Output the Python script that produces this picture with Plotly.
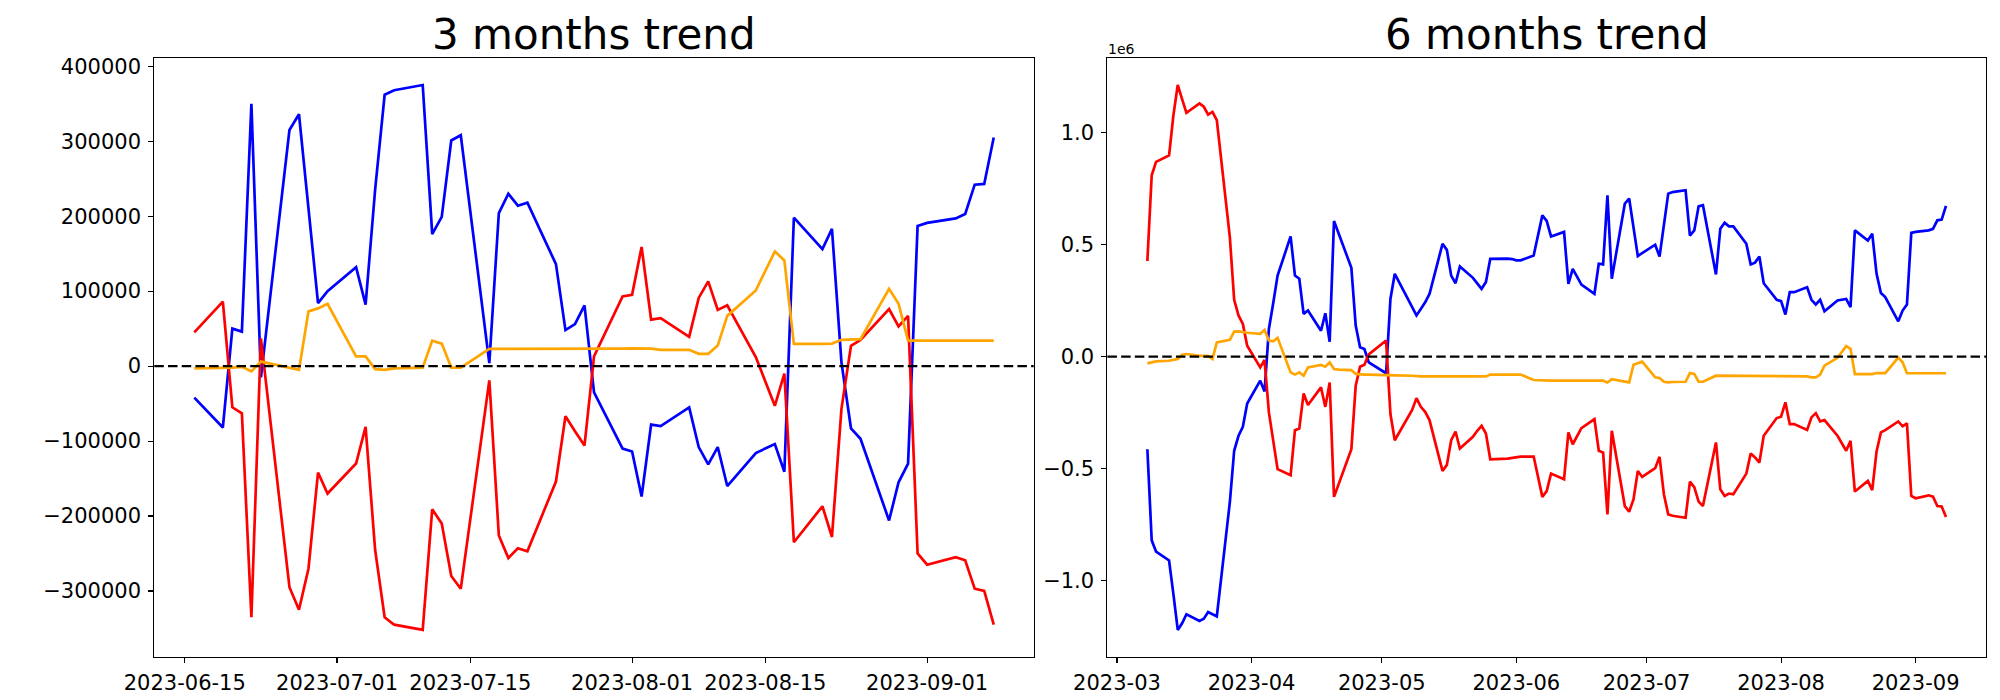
import pandas as pd
import plotly.graph_objects as go

# ---------------- 3 months data ----------------
dates_3m = [
    # June
    "2023-06-16", "2023-06-19", "2023-06-20", "2023-06-21", "2023-06-22", "2023-06-23",
    "2023-06-26", "2023-06-27", "2023-06-28", "2023-06-29", "2023-06-30",
    # July
    "2023-07-03", "2023-07-04", "2023-07-05", "2023-07-06", "2023-07-07",
    "2023-07-10", "2023-07-11", "2023-07-12", "2023-07-13", "2023-07-14",
    "2023-07-17", "2023-07-18", "2023-07-19", "2023-07-20", "2023-07-21",
    "2023-07-24", "2023-07-25", "2023-07-26", "2023-07-27", "2023-07-28", "2023-07-31",
    # August
    "2023-08-01", "2023-08-02", "2023-08-03", "2023-08-04",
    "2023-08-07", "2023-08-08", "2023-08-09", "2023-08-10", "2023-08-11",
    "2023-08-14", "2023-08-16", "2023-08-17", "2023-08-18",
    "2023-08-21", "2023-08-22", "2023-08-23", "2023-08-24", "2023-08-25",
    "2023-08-28", "2023-08-29", "2023-08-30", "2023-08-31",
    # September
    "2023-09-01", "2023-09-04", "2023-09-05", "2023-09-06", "2023-09-07", "2023-09-08",
]
blue_3m = [
    -42000, -82000, 50000, 46000, 350000, -15000, 315000, 336000, 210000, 84000, 100000,
    132000, 82000, 235000, 362000, 368000, 375000, 176000, 199000, 301000, 308000,
    4000, 204000, 230000, 214000, 218000, 136000, 48000, 56000, 81000, -35000, -110000,
    -114000, -174000, -78000, -80000, -55000, -108000, -131000, -108000, -160000,
    -116000, -104000, -141000, 198000, 156000, 183000, 5000, -83000, -97000,
    -206000, -155000, -130000, 187000,
    191000, 197000, 203000, 242000, 243000, 305000,
]
red_3m = [
    45000, 86000, -55000, -63000, -335000, 37000, -295000, -325000, -270000, -142000, -170000,
    -130000, -81000, -245000, -335000, -345000, -352000, -191000, -210000, -280000, -297000,
    -19000, -226000, -256000, -243000, -247000, -154000, -67000, -87000, -106000, 13000, 93000,
    95000, 159000, 62000, 64000, 39000, 91000, 113000, 75000, 81000,
    12000, -53000, -10000, -235000, -187000, -228000, -57000, 27000, 35000,
    76000, 53000, 67000, -250000,
    -265000, -255000, -259000, -297000, -300000, -345000,
]
orange_3m = [
    -3000, -2500, -2000, -1000, -7000, 6000, -3000, -5000, 73000, 77000, 83000,
    13000, 13000, -4000, -5000, -3000, -2000, 34000, 30000, -2000, -2000,
    23000, 23000, 23000, 23500, 23500, 23500, 23000, 23000, 22500, 23000, 23400,
    23600, 23000, 23400, 21700, 21700, 16400, 16400, 27400, 67000,
    101000, 153000, 141000, 29600, 29600, 30000, 35000, 35000, 36000,
    103000, 83000, 34000, 34000,
    34000, 34000, 34000, 34000, 34500, 34000,
]

# ---------------- 6 months data ----------------
dates_6m = [
    # March (18)
    "2023-03-08", "2023-03-09", "2023-03-10", "2023-03-13", "2023-03-14", "2023-03-15",
    "2023-03-16", "2023-03-17", "2023-03-20", "2023-03-21", "2023-03-22", "2023-03-23",
    "2023-03-24", "2023-03-27", "2023-03-28", "2023-03-29", "2023-03-30", "2023-03-31",
    # April (20)
    "2023-04-03", "2023-04-04", "2023-04-05", "2023-04-06", "2023-04-07",
    "2023-04-10", "2023-04-11", "2023-04-12", "2023-04-13", "2023-04-14",
    "2023-04-17", "2023-04-18", "2023-04-19", "2023-04-20", "2023-04-21",
    "2023-04-24", "2023-04-25", "2023-04-26", "2023-04-27", "2023-04-28",
    # May (20)
    "2023-05-02", "2023-05-03", "2023-05-04",
    "2023-05-08", "2023-05-09", "2023-05-10", "2023-05-11", "2023-05-12",
    "2023-05-15", "2023-05-16", "2023-05-17", "2023-05-18", "2023-05-19",
    "2023-05-22", "2023-05-23", "2023-05-24", "2023-05-25", "2023-05-26",
    "2023-05-30", "2023-05-31",
    # June (21)
    "2023-06-01", "2023-06-02", "2023-06-05", "2023-06-07", "2023-06-08", "2023-06-09",
    "2023-06-12", "2023-06-13", "2023-06-14", "2023-06-15", "2023-06-16",
    "2023-06-19", "2023-06-20", "2023-06-21", "2023-06-22", "2023-06-23",
    "2023-06-26", "2023-06-27", "2023-06-28", "2023-06-29", "2023-06-30",
    # July (21)
    "2023-07-03", "2023-07-04", "2023-07-05", "2023-07-06", "2023-07-07",
    "2023-07-10", "2023-07-11", "2023-07-12", "2023-07-13", "2023-07-14",
    "2023-07-17", "2023-07-18", "2023-07-19", "2023-07-20", "2023-07-21",
    "2023-07-24", "2023-07-25", "2023-07-26", "2023-07-27", "2023-07-28", "2023-07-31",
    # August (22)
    "2023-08-01", "2023-08-02", "2023-08-03", "2023-08-04",
    "2023-08-07", "2023-08-08", "2023-08-09", "2023-08-10", "2023-08-11",
    "2023-08-14", "2023-08-16", "2023-08-17", "2023-08-18",
    "2023-08-21", "2023-08-22", "2023-08-23", "2023-08-24", "2023-08-25",
    "2023-08-28", "2023-08-29", "2023-08-30", "2023-08-31",
    # September (6)
    "2023-09-01", "2023-09-04", "2023-09-05", "2023-09-06", "2023-09-07", "2023-09-08",
]
blue_6m = [
    # March
    -413000, -820000, -870000, -910000, -1060000, -1220000,
    -1190000, -1150000, -1180000, -1170000, -1140000, -1150000,
    -1160000, -650000, -420000, -353000, -313000, -209000,
    # April
    -107000, -155000, 124000, 240000, 362000,
    537000, 362000, 348000, 191000, 206000,
    116000, 194000, 67000, 606000, 555000,
    397000, 139000, 42000, 34000, -25000,
    # May
    -74000, 258000, 370000,
    221000, 184000, 213000, 243000, 280000,
    504000, 477000, 362000, 328000, 403000,
    352000, 330000, 303000, 333000, 437000,
    438000, 436000,
    # June
    430000, 430000, 452000, 631000, 606000, 537000,
    557000, 325000, 392000, 357000, 322000,
    281000, 415000, 412000, 720000, 348000,
    683000, 706000, 580000, 449000, 463000,
    # July
    500000, 447000, 600000, 728000, 735000,
    743000, 541000, 564000, 671000, 676000,
    367000, 571000, 598000, 582000, 582000,
    504000, 412000, 420000, 447000, 328000, 254000,
    # August
    248000, 188000, 288000, 288000,
    310000, 254000, 233000, 254000, 203000,
    251000, 258000, 221000, 564000,
    519000, 549000, 370000, 284000, 266000,
    158000, 206000, 233000, 553000,
    # September
    557000, 564000, 571000, 609000, 612000, 673000,
]
red_6m = [
    # March
    427000, 810000, 870000, 899000, 1078000, 1213000,
    1150000, 1089000, 1131000, 1116000, 1081000, 1093000,
    1056000, 534000, 254000, 184000, 146000, 49000,
    # April
    -48000, -15000, -249000, -376000, -502000,
    -529000, -328000, -321000, -164000, -216000,
    -137000, -224000, -115000, -626000, -574000,
    -413000, -130000, -45000, -36000, 10000,
    # May
    72000, -256000, -373000,
    -238000, -185000, -224000, -246000, -283000,
    -510000, -483000, -373000, -334000, -410000,
    -358000, -331000, -309000, -343000, -458000,
    -455000, -453000,
    # June
    -450000, -446000, -446000, -626000, -600000, -522000,
    -547000, -338000, -391000, -355000, -319000,
    -279000, -420000, -428000, -704000, -331000,
    -667000, -692000, -637000, -510000, -537000,
    # July
    -498000, -447000, -614000, -704000, -710000,
    -719000, -558000, -582000, -647000, -667000,
    -383000, -592000, -622000, -611000, -614000,
    -522000, -432000, -450000, -473000, -353000, -274000,
    # August
    -268000, -204000, -301000, -301000,
    -327000, -271000, -252000, -289000, -283000,
    -353000, -420000, -376000, -602000,
    -555000, -596000, -423000, -338000, -328000,
    -289000, -311000, -298000, -622000,
    # September
    -632000, -619000, -625000, -667000, -669000, -716000,
]
orange_6m = [
    # March
    -30000, -25000, -21000, -18000, -15000, -10000,
    9000, 12000, 4000, 4000, 4000, -10000,
    64000, 75000, 112000, 113000, 109000, 107000,
    # April
    102000, 119000, 72000, 69000, 84000,
    -70000, -80000, -70000, -85000, -48000,
    -37000, -45000, -25000, -55000, -58000,
    -60000, -77000, -80000, -80000, -80000,
    # May
    -80000, -82000, -83000,
    -85000, -88000, -88000, -88000, -88000,
    -88000, -88000, -88000, -88000, -88000,
    -88000, -88000, -88000, -88000, -80000,
    -80000, -80000,
    # June
    -80000, -80000, -104000, -106000, -107000, -107000,
    -107000, -107000, -107000, -108000, -110000,
    -110000, -108000, -107000, -115000, -100000,
    -111000, -115000, -36000, -30000, -22000,
    # July
    -92000, -95000, -112000, -115000, -113000,
    -112000, -73000, -77000, -112000, -112000,
    -85000, -85000, -85000, -85000, -85000,
    -85000, -85000, -86000, -86000, -85000, -85000,
    # August
    -85000, -85000, -85000, -87000,
    -88000, -92000, -92000, -80000, -40000,
    -5000, 47000, 35000, -78000,
    -78000, -78000, -73000, -73000, -73000,
    -4000, -25000, -74000, -74000,
    # September
    -74000, -74000, -74000, -74000, -74000, -74000,
]

# ---------------- tick labels ----------------
xticks_3m = ["2023-06-15", "2023-07-01", "2023-07-15", "2023-08-01", "2023-08-15", "2023-09-01"]
xticks_6m = ["2023-03-01", "2023-04-01", "2023-05-01", "2023-06-01",
             "2023-07-01", "2023-08-01", "2023-09-01"]
xticktext_6m = ["2023-03", "2023-04", "2023-05", "2023-06", "2023-07", "2023-08", "2023-09"]
yticks_3m = [-300000, -200000, -100000, 0, 100000, 200000, 300000, 400000]
yticktext_3m = ["\u2212300000", "\u2212200000", "\u2212100000", "0",
                "100000", "200000", "300000", "400000"]
yticks_6m = [-1000000, -500000, 0, 500000, 1000000]
yticktext_6m = ["\u22121.0", "\u22120.5", "0.0", "0.5", "1.0"]

titles = ["3 months trend", "6 months trend"]
colors = {"blue": "#0000ff", "red": "#ff0000", "orange": "#ffa500"}

W, H = 2000, 700
FONT = "DejaVu Sans"


def mpl_range(vals, frac=0.05):
    lo, hi = min(vals), max(vals)
    pad = (hi - lo) * frac
    return [lo - pad, hi + pad]


def mpl_date_range(dates, frac=0.05):
    d = pd.to_datetime(dates)
    lo, hi = d.min(), d.max()
    pad = (hi - lo) * frac
    return [(lo - pad).strftime("%Y-%m-%d %H:%M:%S"), (hi + pad).strftime("%Y-%m-%d %H:%M:%S")]


fig = go.Figure()

sets = [
    (dates_3m, blue_3m, red_3m, orange_3m, "x", "y"),
    (dates_6m, blue_6m, red_6m, orange_6m, "x2", "y2"),
]
for dates, b, r, o, xa, ya in sets:
    for vals, c in ((b, "blue"), (r, "red"), (o, "orange")):
        fig.add_trace(go.Scatter(
            x=dates, y=vals, mode="lines", xaxis=xa, yaxis=ya,
            line=dict(color=colors[c], width=2.7), showlegend=False,
            hoverinfo="skip",
        ))

top = 1 - 55 / H
bottom = 1 - 657 / H
dom1 = [122.4 / W, 1017 / W]
dom2 = [1092 / W, 1985.7 / W]

axis_common = dict(
    showline=True, linecolor="black", linewidth=1.1, mirror=True,
    ticks="outside", ticklen=5, tickwidth=1.1, tickcolor="black",
    showgrid=False, zeroline=False,
    tickfont=dict(family=FONT, size=21, color="black"),
)

fig.update_layout(
    width=W, height=H,
    margin=dict(l=0, r=0, t=0, b=0),
    paper_bgcolor="white", plot_bgcolor="white",
    font=dict(family=FONT, color="black"),
    xaxis=dict(domain=dom1, anchor="y", type="date",
               range=mpl_date_range(dates_3m),
               tickmode="array", tickvals=xticks_3m, ticktext=xticks_3m,
               ticklabelstandoff=2, **axis_common),
    yaxis=dict(domain=[bottom, top], anchor="x",
               range=mpl_range(blue_3m + red_3m + orange_3m),
               tickmode="array", tickvals=yticks_3m, ticktext=yticktext_3m,
               ticklabelstandoff=3, **axis_common),
    xaxis2=dict(domain=dom2, anchor="y2", type="date",
                range=mpl_date_range(dates_6m),
                tickmode="array", tickvals=xticks_6m, ticktext=xticktext_6m,
                ticklabelstandoff=2, **axis_common),
    yaxis2=dict(domain=[bottom, top], anchor="x2",
                range=mpl_range(blue_6m + red_6m + orange_6m),
                tickmode="array", tickvals=yticks_6m, ticktext=yticktext_6m,
                ticklabelstandoff=3, **axis_common),
)

# dashed zero lines
for xr, yr in (("x domain", "y"), ("x2 domain", "y2")):
    fig.add_shape(type="line", xref=xr, yref=yr, x0=0, x1=1, y0=0, y1=0,
                  line=dict(color="black", width=2.3, dash="9.5px,4.2px"),
                  layer="above")

# titles
for dom, t in ((dom1, titles[0]), (dom2, titles[1])):
    fig.add_annotation(text=t, xref="paper", yref="paper",
                       x=(dom[0] + dom[1]) / 2, y=top, xanchor="center", yanchor="bottom",
                       yshift=-3, showarrow=False,
                       font=dict(family=FONT, size=42, color="black"))

# offset text for 6 months axis
fig.add_annotation(text="1e6", xref="paper", yref="paper", x=dom2[0], y=top,
                   xanchor="left", yanchor="bottom", xshift=-1, yshift=-1, showarrow=False,
                   font=dict(family=FONT, size=14, color="black"))

fig.write_html(
    "out.html",
    config={"displayModeBar": False, "staticPlot": True},
    post_script="document.body.style.margin='0px';document.body.style.overflow='hidden';",
)
